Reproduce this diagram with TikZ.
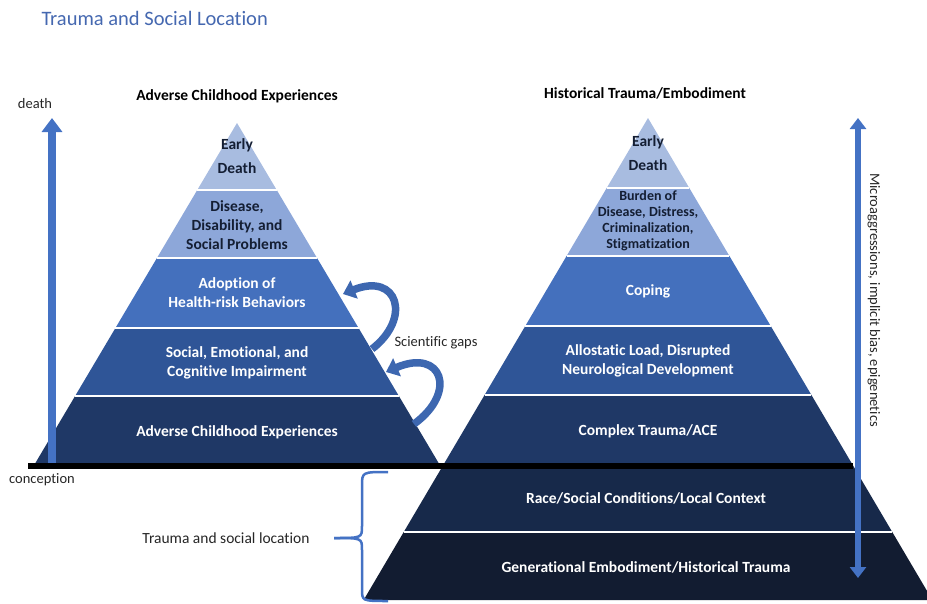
\documentclass[tikz,border=0pt]{standalone}
\usepackage{fontspec}
\setmainfont{Carlito}[Ligatures=NoCommon]
\usetikzlibrary{arrows.meta}
\definecolor{tierA}{HTML}{A8BCE0}
\definecolor{tierB}{HTML}{8DA7D9}
\definecolor{tierC}{HTML}{4470BD}
\definecolor{tierD}{HTML}{2F5597}
\definecolor{tierE}{HTML}{1F3866}
\definecolor{tierF}{HTML}{17294A}
\definecolor{tierG}{HTML}{121C31}
\definecolor{arrowblue}{HTML}{4472C4}
\definecolor{titleblue}{HTML}{4568B0}
\definecolor{labeldark}{HTML}{141E33}
\tikzset{
    tier label/.style={font=\bfseries\fontsize{15.5}{19}\selectfont, align=center, text=white},
    dark label/.style={tier label, text=labeldark},
    heading/.style={font=\bfseries\fontsize{15.5}{19}\selectfont},
    note/.style={font=\fontsize{14.5}{17}\selectfont, text=black!85},
    blue arrow/.style={draw=arrowblue, line width=8pt, -{Triangle[width=20pt,length=14pt]}},
    gap arrow/.style={draw=arrowblue!90!black, line width=7.5pt, -{Triangle[width=19pt,length=12pt]}}
}
\begin{document}
\begin{tikzpicture}[x=1pt,y=-1pt]
    \clip (0,0) rectangle (927,603);
    \node[font=\fontsize{20.5}{24}\selectfont, text=titleblue, anchor=west] (title) at (38,18) {Trauma and Social Location};

    % left pyramid
    \foreach \ya/\yb/\col in {123/190/tierA,190/258/tierB,258/328/tierC,328/396/tierD,396/463/tierE}{
        \pgfmathsetmacro\wa{0.593*(\ya-123)}
        \pgfmathsetmacro\wb{0.593*(\yb-123)}
        \fill[\col] ({237-\wa},\ya) -- ({237+\wa},\ya) -- ({237+\wb},\yb) -- ({237-\wb},\yb) -- cycle;
    }
    \foreach \y in {190,258,328,396}
        \draw[white,line width=2pt] ({237-0.593*(\y-123)},\y) -- ({237+0.593*(\y-123)},\y);

    % right pyramid
    \foreach \ya/\yb/\col in {118/188/tierA,188/256/tierB,256/326/tierC,326/395/tierD,395/463/tierE,463/532/tierF,532/600/tierG}{
        \pgfmathsetmacro\wa{0.59*(\ya-118)}
        \pgfmathsetmacro\wb{0.59*(\yb-118)}
        \fill[\col] ({648-\wa},\ya) -- ({648+\wa},\ya) -- ({648+\wb},\yb) -- ({648-\wb},\yb) -- cycle;
    }
    \foreach \y in {188,256,326,395,532}
        \draw[white,line width=2pt] ({648-0.59*(\y-118)},\y) -- ({648+0.59*(\y-118)},\y);

    % baseline
    \coordinate (base west) at (28,466);
    \coordinate (base east) at (853,466);
    \draw[line width=6pt] (base west) -- (base east);

    % headings
    \node[heading] (ace head) at (237,96) {Adverse Childhood Experiences};
    \node[heading] (ht head) at (645,93) {Historical Trauma/Embodiment};

    % left labels
    \node[dark label] (l1) at (237,156) {Early\\[5pt]Death};
    \node[dark label] (l2) at (237,225) {Disease,\\Disability, and\\Social Problems};
    \node[tier label] (l3) at (237,293) {Adoption of\\Health-risk Behaviors};
    \node[tier label] (l4) at (237,363) {Social, Emotional, and\\Cognitive Impairment};
    \node[tier label] (l5) at (237,432) {Adverse Childhood Experiences};

    % right labels
    \node[dark label] (r1) at (648,153) {Early\\[5pt]Death};
    \node[dark label, font=\bfseries\fontsize{14}{16}\selectfont] (r2) at (648,221) {Burden of\\Disease, Distress,\\Criminalization,\\Stigmatization};
    \node[tier label] (r3) at (648,291) {Coping};
    \node[tier label] (r4) at (648,361) {Allostatic Load, Disrupted\\Neurological Development};
    \node[tier label] (r5) at (648,431) {Complex Trauma/ACE};
    \node[tier label] (r6) at (646,498) {Race/Social Conditions/Local Context};
    \node[tier label] (r7) at (646,567) {Generational Embodiment/Historical Trauma};

    % time axis
    \node[note] (death) at (35,104) {death};
    \node[note] (conception) at (42,480) {conception};
    \coordinate (life start) at (52,463);
    \coordinate (life end) at (52,118);
    \draw[blue arrow] (life start) -- (life end);

    % scientific gaps
    \node[note] (gaps) at (436,343) {Scientific gaps};
    \coordinate (gap1 tail) at (372,349);
    \coordinate (gap1 head) at (343,294);
    \coordinate (gap2 tail) at (414,424);
    \coordinate (gap2 head) at (386,372);
    \draw[gap arrow] (gap1 tail) .. controls (412,318) and (398,272) .. (gap1 head);
    \draw[gap arrow] (gap2 tail) .. controls (458,392) and (442,348) .. (gap2 head);

    % social location
    \node[note, font=\fontsize{15.5}{18}\selectfont] (location) at (226,538) {Trauma and social location};
    \coordinate (brace top) at (388,472);
    \coordinate (brace tip) at (334,538);
    \coordinate (brace bottom) at (388,601);
    \draw[arrowblue, line width=2.5pt] (brace top) .. controls (362,472) and (362,472) .. (362,486)
        -- (362,526) .. controls (362,538) and (362,538) .. (brace tip);
    \draw[arrowblue, line width=2.5pt] (brace tip) .. controls (362,538) and (362,538) .. (362,550)
        -- (362,589) .. controls (362,601) and (362,601) .. (brace bottom);

    % microaggressions
    \coordinate (micro top) at (858,118);
    \coordinate (micro bottom) at (858,578);
    \draw[draw=arrowblue, line width=5.5pt, {Triangle[width=16pt,length=11pt]}-{Triangle[width=16pt,length=11pt]}] (micro top) -- (micro bottom);
    \node[note, rotate=-90] (micro) at (874,300) {Microaggressions, implicit bias, epigenetics};
\end{tikzpicture}
\end{document}
